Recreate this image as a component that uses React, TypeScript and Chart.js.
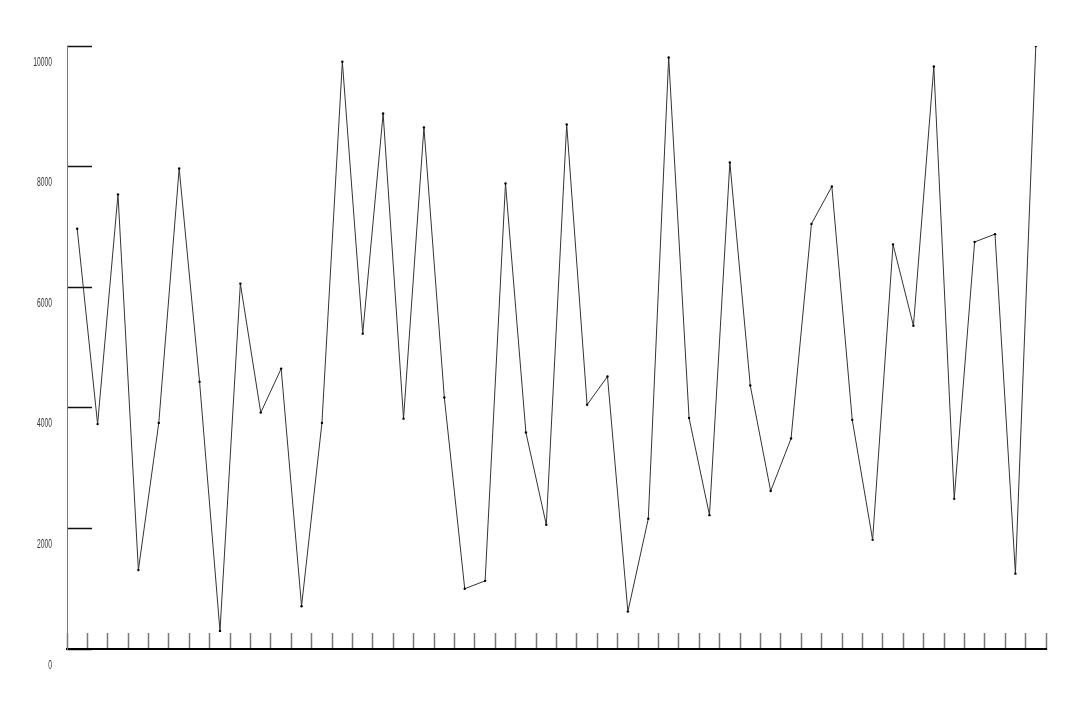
import { Chart, registerables } from "chart.js";
import { useEffect, useRef } from "react";

Chart.register(...registerables);

const categories = [
  "1", "2", "3", "4", "5", "6", "7", "8", "9", "10", "11", "12",
  "13", "14", "15", "16", "17", "18", "19", "20", "21", "22", "23", "24",
  "25", "26", "27", "28", "29", "30", "31", "32", "33", "34", "35", "36",
  "37", "38", "39", "40", "41", "42", "43", "44", "45", "46", "47", "48",
];

const values = [
  6970, 3730, 7540, 1310, 3750, 7970, 4430, 300, 6060, 3920, 4650, 710,
  3750, 9740, 5230, 8880, 3820, 8650, 4170, 1000, 1130, 7720, 3590, 2060,
  8700, 4050, 4520, 620, 2160, 9810, 3830, 2220, 8070, 4370, 2620, 3490,
  7050, 7670, 3800, 1810, 6710, 5360, 9660, 2490, 6750, 6880, 1250, 10000,
];

const yMin = 0;
const yMax = 10000;
const yStep = 2000;

// y tick marks point inwards, labels sit 15px left of the axis
const Y_TICK_LEN = -25;
const Y_LABEL_PAD = 40;
// the reference uses a very narrow face, squeeze the labels horizontally
const LABEL_SQUEEZE = 0.52;

export default function App() {
  const canvasRef = useRef<HTMLCanvasElement>(null);
  const chartRef = useRef<Chart | null>(null);

  useEffect(() => {
    if (!canvasRef.current) return;

    chartRef.current = new Chart(canvasRef.current, {
      type: "line",
      data: {
        labels: categories,
        datasets: [
          {
            data: values,
            borderColor: "#333",
            borderWidth: 1,
            tension: 0,
            pointRadius: 1.2,
            pointBorderWidth: 0,
            pointBackgroundColor: "#000",
          },
        ],
      },
      options: {
        animation: false,
        responsive: true,
        maintainAspectRatio: false,
        layout: {
          padding: { top: 38, right: 26, left: 0, bottom: 0 },
        },
        plugins: {
          legend: { display: false },
          tooltip: { enabled: false },
        },
        scales: {
          x: {
            offset: true,
            grid: {
              offset: true,
              drawOnChartArea: false,
              tickLength: -16,
              tickColor: "#777",
              tickWidth: 1.5,
            },
            border: { color: "#000", width: 2 },
            ticks: { display: false },
            afterFit: (s) => {
              s.height = 63;
              s.paddingLeft = 0;
              s.paddingRight = 0;
            },
          },
          y: {
            min: yMin,
            max: yMax,
            grid: {
              drawOnChartArea: false,
              tickLength: Y_TICK_LEN,
              tickColor: "#111",
              tickWidth: 1.5,
            },
            border: { color: "#777", width: 1 },
            ticks: {
              stepSize: yStep,
              padding: Y_LABEL_PAD,
              labelOffset: 16,
              color: "#333",
              callback: (v) => String(v),
              font: { family: "'Liberation Sans', Arial, sans-serif", size: 13 },
            },
            afterFit: (s: any) => {
              s.width = 59;
              s.paddingTop = 0;
              s.paddingBottom = 0;
              if (!s._squeezed) {
                const orig = s.drawLabels;
                s.drawLabels = function (area: any) {
                  const ctx = this.ctx;
                  const xr = this.right - (Y_TICK_LEN + Y_LABEL_PAD);
                  ctx.save();
                  ctx.translate(xr, 0);
                  ctx.scale(LABEL_SQUEEZE, 1);
                  ctx.translate(-xr, 0);
                  orig.call(this, area);
                  ctx.restore();
                };
                s._squeezed = true;
              }
            },
          },
        },
      },
    });

    return () => chartRef.current?.destroy();
  }, []);

  return (
    <div style={{ width: 1064, height: 704, position: "relative" }}>
      <canvas ref={canvasRef}></canvas>
    </div>
  );
}
